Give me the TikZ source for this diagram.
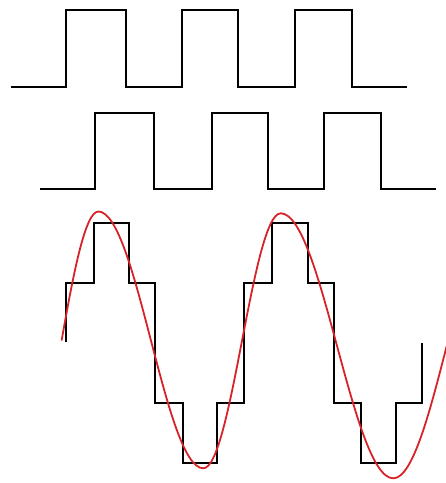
\documentclass[tikz,border=0pt]{standalone}
\begin{document}
\begin{tikzpicture}[x=1pt,y=-1pt,
  wave/.style={draw=black,line width=2pt,line join=miter},
  sinecurve/.style={draw={rgb,255:red,214;green,35;blue,40},line width=1.8pt,line cap=round}]
\useasboundingbox (0,0) rectangle (446,483);
\clip (0,0) rectangle (446,483);
% top square wave
\draw[wave] (11,87) -- (66,87) -- (66,10) -- (126,10) -- (126,87) -- (182,87) -- (182,10)
  -- (238,10) -- (238,87) -- (295,87) -- (295,10) -- (352,10) -- (352,87) -- (407,87);
% second square wave
\draw[wave] (40,189) -- (95,189) -- (95,113) -- (154,113) -- (154,189) -- (212,189) -- (212,113)
  -- (268,113) -- (268,189) -- (324,189) -- (324,113) -- (381,113) -- (381,189) -- (436,189);
% staircase
\draw[wave] (66,342) -- (66,283) -- (94,283) -- (94,223) -- (129,223)
  -- (129,283) -- (155,283) -- (155,403) -- (183,403) -- (183,463)
  -- (217,463) -- (217,403) -- (244,403) -- (244,283) -- (272,283)
  -- (272,223) -- (308,223) -- (308,283) -- (334,283) -- (334,403)
  -- (361,403) -- (361,463) -- (396,463) -- (396,403) -- (422,403)
  -- (422,343);
% red sine
\draw[sinecurve] (61.7,340)
  .. controls (73,276) and (85,211.5) .. (98.3,211.5)
  .. controls (136.5,211.5) and (165.1,468.3) .. (203.3,468.3)
  .. controls (231.4,468.3) and (252.6,213.3) .. (280.7,213.3)
  .. controls (321.6,213.3) and (352.4,478.3) .. (393.3,478.3)
  .. controls (432.2,478.3) and (461.1,214) .. (500,214);
\end{tikzpicture}
\end{document}
